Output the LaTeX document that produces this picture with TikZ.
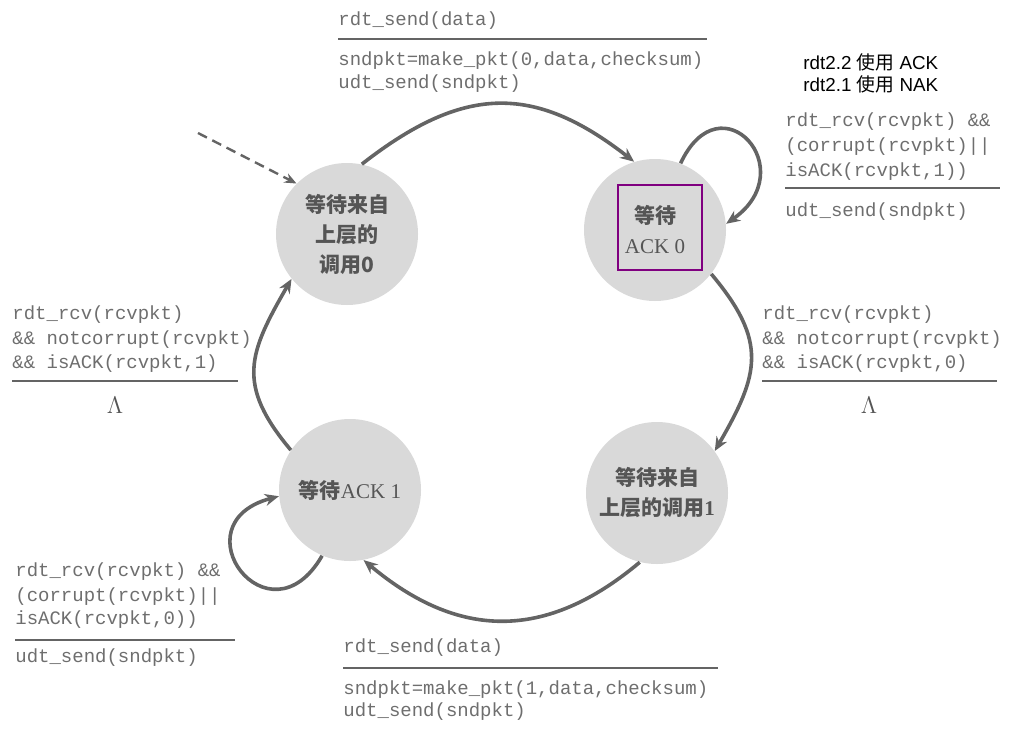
\documentclass[tikz,border=0pt]{standalone}
\usepackage{fontspec}
\setmainfont{Liberation Serif}
\setmonofont{Liberation Mono}
\newfontfamily\cjk{Noto Sans CJK SC}
\newfontfamily\notefont{Liberation Sans}
\usetikzlibrary{arrows.meta}
\definecolor{stategray}{RGB}{217,217,217}
\definecolor{edgegray}{RGB}{100,100,100}
\definecolor{codegray}{RGB}{110,110,110}
\definecolor{textgray}{RGB}{85,85,85}
\definecolor{boxpurple}{RGB}{128,0,128}

\begin{document}
\begin{tikzpicture}[x=0.5pt,y=-0.5pt,
	state/.style={circle,fill=stategray,minimum size=71pt,inner sep=0pt,align=center,text=textgray,font=\cjk\bfseries\fontsize{10.5}{15}\selectfont},
	code/.style={anchor=west,inner sep=0pt,text=codegray,font=\ttfamily\fontsize{9.5}{12}\selectfont},
	note/.style={anchor=west,inner sep=0pt,font=\notefont\fontsize{9.4}{11}\selectfont},
	lam/.style={text=textgray,font=\fontsize{12}{14}\selectfont},
	trans/.style={draw=edgegray,line width=1.8pt,-{Stealth[length=7pt,width=6pt]}},
	rule/.style={draw=edgegray,line width=0.9pt}]
	\useasboundingbox (0,0) rectangle (1011,738);

	% states
	\node[state] (wait0) at (347,234) {等待来自\\上层的\\调用0};
	\node[state] (ack0) at (655,230) {等待\\{\rmfamily\mdseries ACK 0}};
	\node[state] (wait1) at (657,493) {等待来自\\上层的调用{\rmfamily 1}};
	\node[state] (ack1) at (350,490) {等待{\rmfamily\mdseries ACK 1}};
	\draw[boxpurple,line width=1pt] (618,185) rectangle (702,270);

	% transitions
	\coordinate (init) at (198,133);
	\draw[edgegray,line width=1.2pt,dash pattern=on 5pt off 3pt,-{Stealth[length=6pt,width=5pt]}] (init) -- (wait0.135);
	\draw[trans] (wait0.78) to[out=38,in=142,looseness=1.2] (ack0.107);
	\draw[trans] (ack0.322) to[out=-50,in=60,looseness=1.28] (wait1.36);
	\draw[trans] (wait1.256) to[out=220,in=320,looseness=1.14] (ack1.281);
	\draw[trans] (ack1.146) to[out=130,in=240,looseness=1.28] (wait0.219);
	\draw[trans] (ack0.69) to[out=65,in=35,looseness=3.2] (ack0.5);
	\draw[trans] (ack1.247) to[out=240,in=195,looseness=3.7] (ack1.185);

	% top
	\node[code] (send0ev) at (338,21) {rdt\_send(data)};
	\draw[rule] (338,39) -- (707,39);
	\node[code] (send0act) at (338,61) {sndpkt=make\_pkt(0,data,checksum)};
	\node[code] (send0udt) at (338,84) {udt\_send(sndpkt)};

	\node[note] (noteack) at (803,62) {rdt2.2 {\cjk 使用} ACK};
	\node[note] (notenak) at (803,84) {rdt2.1 {\cjk 使用} NAK};

	% loop on ack0
	\node[code] (loop0a) at (785,122) {rdt\_rcv(rcvpkt) \&\&};
	\node[code] (loop0b) at (785,147) {(corrupt(rcvpkt)||};
	\node[code] (loop0c) at (785,172) {isACK(rcvpkt,1))};
	\draw[rule] (785,188) -- (1000,188);
	\node[code] (loop0d) at (785,212) {udt\_send(sndpkt)};

	% right
	\node[code] (rcv0a) at (762,315) {rdt\_rcv(rcvpkt)};
	\node[code] (rcv0b) at (762,340) {\&\& notcorrupt(rcvpkt)};
	\node[code] (rcv0c) at (762,364) {\&\& isACK(rcvpkt,0)};
	\draw[rule] (762,381) -- (997,381);
	\node[lam] (lamright) at (869,405) {$\Lambda$};

	% left
	\node[code] (rcv1a) at (12,315) {rdt\_rcv(rcvpkt)};
	\node[code] (rcv1b) at (12,340) {\&\& notcorrupt(rcvpkt)};
	\node[code] (rcv1c) at (12,364) {\&\& isACK(rcvpkt,1)};
	\draw[rule] (12,381) -- (238,381);
	\node[lam] (lamleft) at (115,405) {$\Lambda$};

	% loop on ack1
	\node[code] (loop1a) at (15,572) {rdt\_rcv(rcvpkt) \&\&};
	\node[code] (loop1b) at (15,597) {(corrupt(rcvpkt)||};
	\node[code] (loop1c) at (15,620) {isACK(rcvpkt,0))};
	\draw[rule] (15,640) -- (235,640);
	\node[code] (loop1d) at (15,658) {udt\_send(sndpkt)};

	% bottom
	\node[code] (send1ev) at (343,648) {rdt\_send(data)};
	\draw[rule] (343,668) -- (718,668);
	\node[code] (send1act) at (343,690) {sndpkt=make\_pkt(1,data,checksum)};
	\node[code] (send1udt) at (343,712) {udt\_send(sndpkt)};
\end{tikzpicture}
\end{document}
